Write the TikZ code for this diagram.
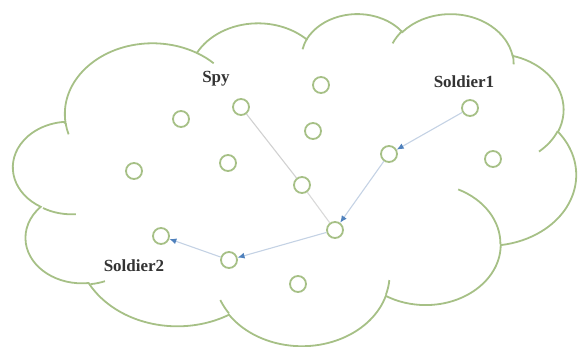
\documentclass[tikz,border=0pt]{standalone}
\usepackage{fontspec}
\setmainfont{Liberation Serif}
\usetikzlibrary{arrows.meta}
\definecolor{leaf}{RGB}{166,192,134}
\definecolor{wire}{RGB}{196,210,228}
\definecolor{tip}{RGB}{79,129,189}
\begin{document}
\begin{tikzpicture}[x=1pt,y=1pt,yscale=-1,
  declare function={pa(\a,\w,\h)=\a+mod(atan2(\w*sin(\a),\h*cos(\a))-\a+540,360)-180;},
  sensor/.style={circle,draw=leaf,line width=1.8pt,minimum size=16pt,inner sep=0pt},
  tag/.style={font=\fontsize{17}{17}\selectfont\bfseries,text=black!80},
  link/.style={draw=wire,line width=1.1pt},
  hop/.style={link,-{Latex[length=7pt,width=6pt,color=tip]}}]
\useasboundingbox (0,0) rectangle (579,347);

% cloud outline
\begin{scope}[shift={(15,13)},xscale=12.986,yscale=7.685,draw=leaf,line width=1.8pt]
\draw (3.900,14.370)
  arc[x radius=6.753pt,y radius=9.190pt,start angle={pa(-190.4875,6.753,9.190)},end angle={pa(-66.7070,6.753,9.190)}]
  arc[x radius=5.333pt,y radius=7.267pt,start angle={pa(-144.1024,5.333,7.267)},end angle={pa(-54.1572,5.333,7.267)}]
  arc[x radius=4.365pt,y radius=5.945pt,start angle={pa(-145.8079,4.365,5.945)},end angle={pa(-46.0849,4.365,5.945)}]
  arc[x radius=4.857pt,y radius=6.595pt,start angle={pa(-130.9861,4.857,6.595)},end angle={pa(-13.7444,4.857,6.595)}]
  arc[x radius=5.333pt,y radius=7.273pt,start angle={pa(-78.7089,5.333,7.273)},end angle={pa(30.3180,5.333,7.273)}]
  arc[x radius=6.775pt,y radius=9.220pt,start angle={pa(-46.2673,6.775,9.220)},end angle={pa(84.0017,6.775,9.220)}]
  arc[x radius=5.785pt,y radius=7.867pt,start angle={pa(0.6250,5.785,7.867)},end angle={pa(114.6583,5.785,7.867)}]
  arc[x radius=6.752pt,y radius=9.215pt,start angle={pa(22.4516,6.752,9.215)},end angle={pa(137.6242,6.752,9.215)}]
  arc[x radius=7.720pt,y radius=10.543pt,start angle={pa(66.2426,7.720,10.543)},end angle={pa(144.2856,7.720,10.543)}]
  arc[x radius=4.360pt,y radius=5.918pt,start angle={pa(-274.9421,4.360,5.918)},end angle={pa(-128.2065,4.360,5.918)}]
  arc[x radius=4.345pt,y radius=5.945pt,start angle={pa(-246.8285,4.345,5.945)},end angle={pa(-94.3096,4.345,5.945)}]
  -- cycle;
% inner tails
\draw (4.693,26.177) arc[x radius=4.345pt,y radius=5.945pt,start angle={pa(86.7420,4.345,5.945)},end angle={pa(113.1715,4.345,5.945)}];
\draw (6.928,34.899) arc[x radius=4.360pt,y radius=5.918pt,start angle={pa(73.6105,4.360,5.918)},end angle={pa(85.0580,4.360,5.918)}];
\draw (16.478,39.090) arc[x radius=6.752pt,y radius=9.215pt,start angle={pa(137.6242,6.752,9.215)},end angle={pa(151.7053,6.752,9.215)}];
\draw (28.827,34.751) arc[x radius=6.752pt,y radius=9.215pt,start angle={pa(6.4533,6.752,9.215)},end angle={pa(22.4517,6.752,9.215)}];
\draw (34.129,22.954) arc[x radius=5.785pt,y radius=7.867pt,start angle={pa(-70.2924,5.785,7.867)},end angle={pa(0.6250,5.785,7.867)}];
\draw (41.798,15.354) arc[x radius=5.333pt,y radius=7.273pt,start angle={pa(30.3180,5.333,7.273)},end angle={pa(58.0695,5.333,7.273)}];
\draw (38.324,5.426) arc[x radius=4.857pt,y radius=6.595pt,start angle={pa(-13.7443,4.857,6.595)},end angle={pa(1.1146,4.857,6.595)}];
\draw (29.078,3.952) arc[x radius=4.857pt,y radius=6.595pt,start angle={pa(-149.1815,4.857,6.595)},end angle={pa(-130.9861,4.857,6.595)}];
\draw (22.141,4.720) arc[x radius=4.365pt,y radius=5.945pt,start angle={pa(-163.4943,4.365,5.945)},end angle={pa(-145.8079,4.365,5.945)}];
\draw (14.000,5.192) arc[x radius=6.753pt,y radius=9.190pt,start angle={pa(-66.7070,6.753,9.190)},end angle={pa(-54.3876,6.753,9.190)}];
\draw (4.127,15.789) arc[x radius=6.753pt,y radius=9.190pt,start angle={pa(157.6544,6.753,9.190)},end angle={pa(169.5126,6.753,9.190)}];
\end{scope}

% sensor nodes
\node[sensor] (n1) at (181,119) {};
\node[sensor] (spy) at (241,107) {};
\node[sensor] (n3) at (321,85) {};
\node[sensor] (n4) at (313,131) {};
\node[sensor] (n5) at (228,163) {};
\node[sensor] (n6) at (134,171) {};
\node[sensor] (n7) at (302,185) {};
\node[sensor] (n8) at (389,154) {};
\node[sensor] (s1) at (470,108) {};
\node[sensor] (n10) at (493,159) {};
\node[sensor] (n11) at (335,230) {};
\node[sensor] (n12) at (229,260) {};
\node[sensor] (s2) at (161,236) {};
\node[sensor] (n14) at (298,284) {};

% labels
\node[tag] (spytag) at (216,79) {Spy};
\node[tag] (s1tag) at (464,82) {Soldier1};
\node[tag] (s2tag) at (134,266) {Soldier2};

% routes
\draw[link,draw=black!18] (spy) -- (n7);
\draw[link,draw=black!15] (n7) -- (n11);
\draw[hop] (s1) -- (n8);
\draw[hop] (n8) -- (n11);
\draw[hop] (n11) -- (n12);
\draw[hop] (n12) -- (s2);
\end{tikzpicture}
\end{document}
